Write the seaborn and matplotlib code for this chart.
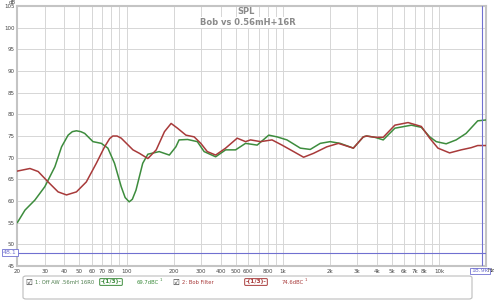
import matplotlib
matplotlib.use("Agg")
import matplotlib.pyplot as plt
from matplotlib.patches import FancyBboxPatch
import seaborn as sns
import pandas as pd

sns.set_style("white")
plt.rcParams['font.family'] = ['DejaVu Sans']

# ---- data ----
green_freq = [20, 22.4, 25.9, 30, 34.8, 38.4, 42.3, 45, 47.8, 51, 54, 61, 69, 76, 83.8, 92.5, 98, 104, 109,
              115, 127, 137, 162, 188, 207, 217, 246, 284, 314, 372, 431, 499, 578, 686,
              814, 919, 1064, 1296, 1500, 1738, 2012, 2330, 2832, 3278, 3442, 3892, 4396,
              5220, 6660, 7710, 8722, 9606, 11120, 12880, 14916, 17700, 20000]
green_db = [55.0, 57.9, 60.2, 63.3, 67.9, 72.5, 75.2, 76.0, 76.2, 76.0, 75.6, 73.7, 73.3, 72.2, 68.7, 63.3, 60.8, 59.8, 60.4,
            62.5, 68.7, 70.8, 71.4, 70.6, 72.5, 74.1, 74.2, 73.7, 71.4, 70.2, 71.8, 71.8, 73.3, 72.9,
            75.2, 74.8, 74.1, 72.2, 71.9, 73.3, 73.7, 73.3, 72.2, 74.8, 75.0, 74.7, 74.1,
            76.8, 77.5, 77.0, 74.8, 73.7, 73.2, 74.1, 75.6, 78.5, 78.7]

red_freq = [20, 24.1, 27.2, 31.5, 36.5, 41.3, 47.8, 55.3, 64.1, 72.4, 78, 81.8, 87, 92.5, 110, 121, 137,
            155, 175, 193, 212, 240, 271, 299, 329, 372, 431, 511, 578, 622, 721, 854, 989,
            1174, 1360, 1574, 1914, 2272, 2832, 3278, 3442, 3892, 4396, 5220, 6342, 7710,
            8722, 9850, 11696, 13860, 16056, 17700, 20000]
red_db = [66.9, 67.5, 66.8, 64.4, 62.1, 61.4, 62.1, 64.4, 68.7, 72.5, 74.4, 75.0, 75.0, 74.5, 71.8, 71.0, 69.8,
          71.8, 76.0, 77.9, 76.8, 75.2, 74.8, 73.3, 71.4, 70.6, 72.2, 74.5, 73.7, 74.1, 73.7, 74.1, 72.9,
          71.4, 70.1, 71.0, 72.5, 73.3, 72.2, 74.8, 75.0, 74.7, 74.7, 77.5, 78.1, 77.2,
          74.5, 72.2, 71.1, 71.8, 72.3, 72.8, 72.8]

series_names = ["1: Off AW .56mH 16R0", "2: Bob Filter"]
series_levels = ["69.7dBC", "74.6dBC"]
smoothing = "1/3"
title_lines = ["SPL", "Bob vs 0.56mH+16R"]
y_ticks = [45, 50, 55, 60, 65, 70, 75, 80, 85, 90, 95, 100, 105]
x_tick_vals = [20, 30, 40, 50, 60, 70, 80, 100, 200, 300, 400, 500, 600, 800,
               1000, 2000, 3000, 4000, 5000, 6000, 7000, 8000, 10000]
x_tick_labels = ["20", "30", "40", "50", "60", "70", "80", "100", "200", "300", "400", "500",
                 "600", "800", "1k", "2k", "3k", "4k", "5k", "6k", "7k", "8k", "10k"]
cursor_db = 48.1
cursor_freq = 18900
cursor_freq_label = "18.9k"

GREEN = "#3d8c3d"
RED = "#a83a3a"
BLUE = "#7070d0"
GRID = "#d6d6d6"

df = pd.concat([
    pd.DataFrame({"freq": green_freq, "db": green_db, "s": series_names[0]}),
    pd.DataFrame({"freq": red_freq, "db": red_db, "s": series_names[1]}),
])

fig = plt.figure(figsize=(4.95, 3.0), dpi=100)
ax = fig.add_axes([17.3/495, 1 - 266/300, (486 - 17.3)/495, 260/300])

sns.lineplot(data=df, x="freq", y="db", hue="s", palette=[GREEN, RED],
             sort=False, ax=ax, linewidth=1.1, legend=False, zorder=3)

ax.set_xscale("log")
ax.set_xlim(20, 20000)
ax.set_ylim(45, 105)

minor = []
for d in [10, 100, 1000, 10000]:
    for m in range(1, 10):
        v = d * m
        if 20 <= v <= 20000:
            minor.append(v)
ax.set_xticks(minor, minor=True)
ax.set_xticks(x_tick_vals)
ax.set_xticklabels(x_tick_labels)
ax.set_yticks(y_ticks)
ax.tick_params(axis="both", which="both", length=0, labelsize=4, colors="#444444", pad=2)
ax.tick_params(axis="x", which="minor", labelbottom=False)
ax.grid(True, which="both", color=GRID, linewidth=0.7)
ax.set_xlabel("")
ax.set_ylabel("")
for sp in ax.spines.values():
    sp.set_color("#c4c4c4")
    sp.set_linewidth(1.5)

ax.axhline(cursor_db, color=BLUE, linewidth=0.8, zorder=4)
ax.axvline(cursor_freq, color=BLUE, linewidth=0.8, zorder=4)

fig.text(10/495, 1 - 252.6/300, f"{cursor_db}", fontsize=4.5, color=BLUE, ha="center", va="center",
         bbox=dict(boxstyle="square,pad=0.15", fc="white", ec=BLUE, lw=0.6))
fig.text(480/495, 1 - 271/300, cursor_freq_label, fontsize=4.5, color=BLUE, ha="center", va="center",
         bbox=dict(boxstyle="square,pad=0.15", fc="white", ec=BLUE, lw=0.6))
fig.text(488/495, 1 - 271/300, "Hz", fontsize=4, color="#444444", ha="left", va="center")
fig.text(12/495, 1 - 2/300, "dB", fontsize=4, color="#444444", ha="center", va="center")

fig.text(246/495, 1 - 12/300, title_lines[0], fontsize=6, color="#8a8a8a", ha="center", va="center",
         fontweight="bold", bbox=dict(fc="white", ec="none", pad=0.5))
fig.text(247.5/495, 1 - 22.5/300, title_lines[1], fontsize=6, color="#8a8a8a", ha="center", va="center",
         fontweight="bold", bbox=dict(fc="white", ec="none", pad=0.5))

box = FancyBboxPatch((23/495, 1 - 299/300), (472 - 23)/495, 23/300,
                     boxstyle="round,pad=0,rounding_size=0.006", transform=fig.transFigure,
                     fc="white", ec="#bdbdbd", lw=0.8)
fig.patches.append(box)

ly = 1 - 282/300
def checkbox(x):
    fig.text(x/495, ly, "\u2611", fontsize=5.5, color="#333333", ha="center", va="center")

checkbox(29)
fig.text(35/495, ly, series_names[0], fontsize=3.8, color="#4f7f4f", ha="left", va="center")
fig.text(111/495, ly, f"-({smoothing})-", fontsize=4.2, color=GREEN, ha="center", va="center",
         fontweight="bold", bbox=dict(boxstyle="round,pad=0.15", fc="white", ec=GREEN, lw=0.7))
fig.text(137/495, ly, series_levels[0], fontsize=3.8, color=GREEN, ha="left", va="center")
fig.text(160/495, ly + 2/300, "1", fontsize=2.8, color=GREEN, ha="left", va="center")
checkbox(176)
fig.text(182/495, ly, series_names[1], fontsize=3.8, color=RED, ha="left", va="center")
fig.text(256/495, ly, f"-({smoothing})-", fontsize=4.2, color=RED, ha="center", va="center",
         fontweight="bold", bbox=dict(boxstyle="round,pad=0.15", fc="white", ec=RED, lw=0.7))
fig.text(282/495, ly, series_levels[1], fontsize=3.8, color=RED, ha="left", va="center")
fig.text(305/495, ly + 2/300, "1", fontsize=2.8, color=RED, ha="left", va="center")

fig.savefig("out.png", dpi=100)
